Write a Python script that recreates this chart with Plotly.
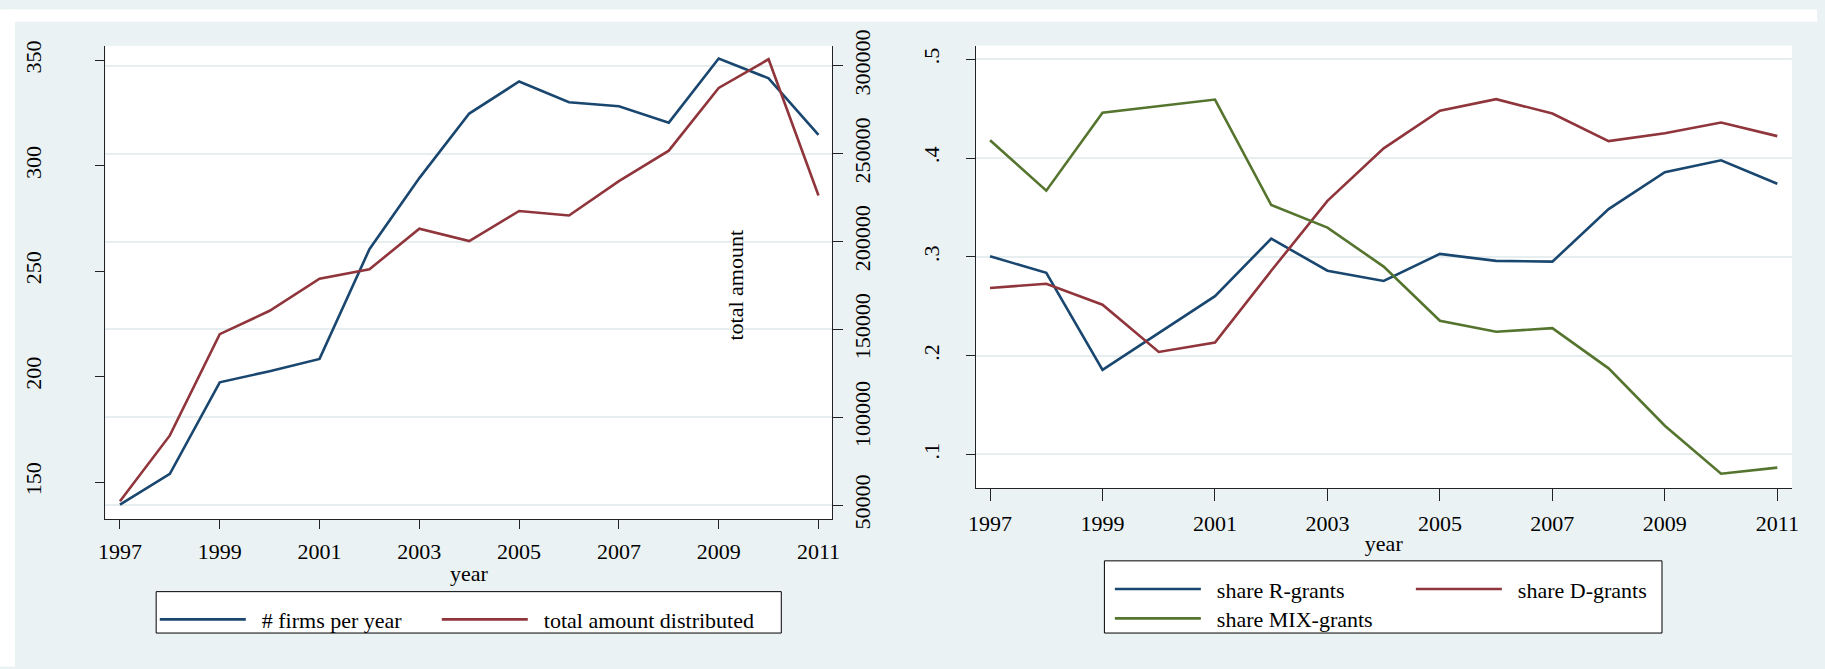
import plotly.graph_objects as go

W, H = 1825, 669

years = list(range(1997, 2012))
firms_per_year = [139.3, 153.9, 197.3, 202.6, 208.4, 260.4, 294.1, 324.7, 339.9, 330.1, 328.2, 320.4, 350.8, 341.4, 314.6]
total_amount = [52300, 89700, 147300, 160600, 178900, 184200, 207300, 200300, 217400, 214800, 234400, 251700, 287400, 303700, 226200]
share_r = [0.3006, 0.284, 0.1856, 0.223, 0.2603, 0.3185, 0.2861, 0.2757, 0.3031, 0.296, 0.2952, 0.3484, 0.3858, 0.3978, 0.3741]
share_d = [0.2686, 0.2728, 0.2516, 0.2038, 0.2134, 0.2860, 0.3567, 0.4099, 0.4481, 0.4597, 0.4452, 0.4173, 0.4252, 0.436, 0.4223]
share_mix = [0.4182, 0.3671, 0.446, 0.4526, 0.4593, 0.3525, 0.3297, 0.2902, 0.2354, 0.2242, 0.2279, 0.1872, 0.1291, 0.0805, 0.0867]

x_ticks = [1997, 1999, 2001, 2003, 2005, 2007, 2009, 2011]
left_y_ticks = [150, 200, 250, 300, 350]
right_y_ticks = [50000, 100000, 150000, 200000, 250000, 300000]
share_ticks = [0.1, 0.2, 0.3, 0.4, 0.5]
share_tick_text = [".1", ".2", ".3", ".4", ".5"]

NAVY = "#1a476f"
MAROON = "#90353b"
GREEN = "#55752f"
BG = "#eaf2f3"
GRID = "#e6eef0"
AX = "#222222"
FONT = "Liberation Serif"
FS = 22
GAP = "\u00a0\u00a0"  # small gap between legend line and label


def px(x):
    return x / W


def py(y):
    return 1 - y / H


fig = go.Figure()
fig.add_trace(go.Scatter(x=years, y=firms_per_year, mode="lines", name=GAP + "# firms per year",
                         line=dict(color=NAVY, width=2.6), xaxis="x", yaxis="y", legend="legend"))
fig.add_trace(go.Scatter(x=years, y=total_amount, mode="lines", name=GAP + "total amount distributed",
                         line=dict(color=MAROON, width=2.6), xaxis="x", yaxis="y2", legend="legend",
                         legendwidth=250))
fig.add_trace(go.Scatter(x=years, y=share_r, mode="lines", name=GAP + "share R-grants",
                         line=dict(color=NAVY, width=2.6), xaxis="x2", yaxis="y3", legend="legend2"))
fig.add_trace(go.Scatter(x=years, y=share_d, mode="lines", name=GAP + "share D-grants",
                         line=dict(color=MAROON, width=2.6), xaxis="x2", yaxis="y3", legend="legend2",
                         legendwidth=180))
fig.add_trace(go.Scatter(x=years, y=share_mix, mode="lines", name=GAP + "share MIX-grants",
                         line=dict(color=GREEN, width=2.6), xaxis="x2", yaxis="y3", legend="legend3",
                         legendwidth=200))

tickfont = dict(family=FONT, size=FS, color="black")
common_x = dict(tickmode="array", tickvals=x_ticks, ticks="outside", tickcolor=AX,
                showline=True, linecolor=AX, linewidth=1, showgrid=False, zeroline=False,
                tickfont=tickfont)

legend_common = dict(orientation="h", bgcolor="rgba(0,0,0,0)", borderwidth=0,
                     font=dict(family=FONT, size=FS, color="black"), itemwidth=86,
                     entrywidthmode="pixels", xanchor="left", yanchor="middle",
                     itemclick=False, itemdoubleclick=False)

fig.update_layout(
    width=W, height=H, margin=dict(l=0, r=0, t=0, b=0),
    paper_bgcolor=BG, plot_bgcolor="white",
    font=dict(family=FONT, size=FS, color="black"),
    xaxis=dict(common_x, domain=[px(99.3), px(832.3)], range=[1996.71, 2011.28], anchor="y",
               ticklen=9, ticklabelstandoff=3,
               title=dict(text="year", font=tickfont, standoff=2)),
    yaxis=dict(domain=[py(523), py(31)], range=[132.3, 356.8], tickmode="array", tickvals=left_y_ticks,
               ticks="outside", ticklen=9, tickcolor=AX, showline=True, linecolor=AX, linewidth=1,
               showgrid=False, zeroline=False, tickangle=-90, tickfont=tickfont,
               ticklabelstandoff=46, anchor="x"),
    yaxis2=dict(overlaying="y", side="right", range=[41900, 311336], tickmode="array",
                tickvals=right_y_ticks, tickformat="d", ticks="outside", ticklen=10, tickcolor=AX,
                showline=True, linecolor=AX, linewidth=1, showgrid=True, gridcolor=GRID, gridwidth=2,
                zeroline=False, tickangle=-90, tickfont=tickfont, anchor="x"),
    xaxis2=dict(common_x, domain=[px(976.7), px(1799.7)], range=[1996.744, 2011.26], anchor="y3",
                ticklen=12, ticklabelstandoff=3,
                title=dict(text="year", font=tickfont, standoff=0)),
    yaxis3=dict(domain=[py(490.8), py(30.7)], range=[0.0656, 0.514], tickmode="array",
                tickvals=share_ticks, ticktext=share_tick_text, ticks="outside", ticklen=9,
                tickcolor=AX, showline=True, linecolor=AX, linewidth=1, showgrid=True,
                gridcolor=GRID, gridwidth=2, zeroline=False, tickangle=-90, tickfont=tickfont,
                ticklabelstandoff=18, anchor="x2"),
    legend=dict(legend_common, x=px(149), y=py(627), entrywidth=181),
    legend2=dict(legend_common, x=px(1112), y=py(595.5), entrywidth=200),
    legend3=dict(legend_common, x=px(1112), y=py(626), entrywidth=200),
    showlegend=True,
)

shapes = [
    dict(type="rect", xref="paper", yref="paper", x0=0, x1=1, y0=py(6), y1=1.01,
         fillcolor="white", line=dict(width=0), layer="above"),
    dict(type="rect", xref="paper", yref="paper", x0=-0.01, x1=px(8), y0=-0.01, y1=1.01,
         fillcolor="white", line=dict(width=0), layer="above"),
    dict(type="rect", xref="paper", yref="paper", x0=px(150.4), x1=px(780.7), y0=py(641), y1=py(598),
         fillcolor="white", line=dict(color="black", width=1), layer="above"),
    dict(type="rect", xref="paper", yref="paper", x0=px(1106.5), x1=px(1668.7), y0=py(641), y1=py(566),
         fillcolor="white", line=dict(color="black", width=1), layer="above"),
]
fig.update_layout(shapes=shapes)

fig.add_annotation(text="total amount", xref="paper", yref="paper", x=px(735), y=py(279),
                   textangle=-90, showarrow=False, font=tickfont, xanchor="center", yanchor="middle")

fig.write_html("out.html")
